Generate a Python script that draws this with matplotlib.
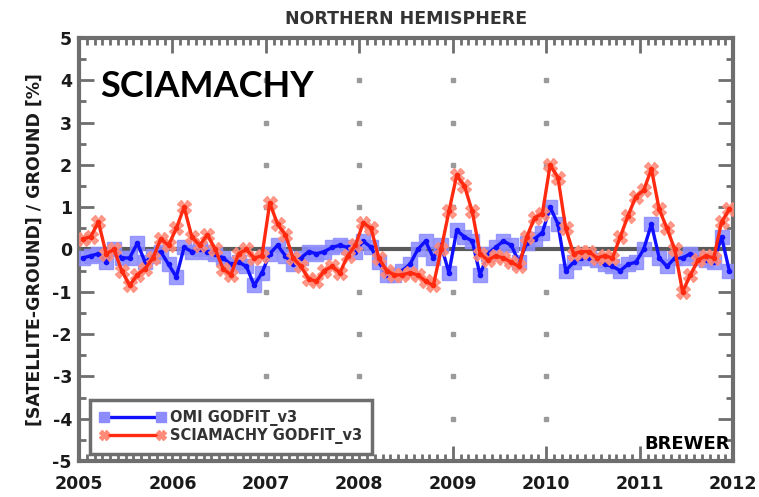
import matplotlib
matplotlib.use("Agg")
import matplotlib.pyplot as plt
import numpy as np
from matplotlib.ticker import MultipleLocator

plt.rcParams["axes.unicode_minus"] = False

# monthly time axis (decimal years, mid-month)
n_months = 84
years = 2005 + (np.arange(n_months) + 0.5) / 12.0

omi = [-0.2, -0.15, -0.1, -0.3, 0.0, -0.2, -0.2, 0.15, -0.3, -0.15, -0.05, -0.35,
       -0.65, 0.05, -0.05, 0.0, -0.05, -0.1, -0.2, -0.35, -0.3, -0.4, -0.85, -0.55,
       -0.1, 0.1, -0.15, -0.35, -0.2, -0.05, -0.1, -0.05, 0.05, 0.1, 0.05, -0.05,
       0.2, 0.05, -0.3, -0.6, -0.6, -0.5, -0.35, 0.0, 0.2, -0.2, 0.1, -0.55,
       0.45, 0.3, 0.2, -0.6, -0.1, 0.05, 0.2, 0.1, -0.3, 0.15, 0.25, 0.4,
       1.0, 0.6, -0.5, -0.3, -0.2, -0.2, -0.25, -0.35, -0.4, -0.5, -0.35, -0.3,
       0.0, 0.6, -0.2, -0.4, -0.2, -0.2, -0.1, -0.2, -0.25, -0.3, 0.3, -0.5]

sciamachy = [0.25, 0.3, 0.65, -0.1, 0.0, -0.5, -0.85, -0.6, -0.45, -0.2, 0.25, 0.1,
             0.5, 1.0, 0.3, 0.1, 0.35, 0.0, -0.45, -0.6, -0.1, 0.0, -0.2, -0.15,
             1.1, 0.6, 0.35, -0.2, -0.4, -0.7, -0.75, -0.5, -0.4, -0.55, -0.15, 0.1,
             0.63, 0.5, -0.2, -0.5, -0.6, -0.6, -0.55, -0.6, -0.75, -0.85, 0.0, 0.9,
             1.75, 1.5, 0.9, -0.1, -0.25, -0.15, -0.2, -0.3, -0.4, 0.3, 0.75, 0.85,
             2.0, 1.7, 0.5, -0.1, -0.05, -0.05, -0.2, -0.15, -0.2, 0.3, 0.8, 1.25,
             1.4, 1.9, 0.95, 0.5, 0.0, -1.0, -0.6, -0.25, -0.15, -0.2, 0.65, 0.95]

year_ticks = [2005, 2006, 2007, 2008, 2009, 2010, 2011, 2012]
y_ticks = [-5, -4, -3, -2, -1, 0, 1, 2, 3, 4, 5]
grid_years = [2007, 2008, 2009, 2010]
grid_levels = [-4, -3, -2, -1, 1, 2, 3, 4]

frame_col = "#6e6e6e"
text_col = "#1a1a1a"

fig = plt.figure(figsize=(7.59, 4.97), dpi=100)
ax = fig.add_axes([0.104, 0.0725, 0.862, 0.851])

# dotted grid: only points at the intersections
gx, gy = np.meshgrid(grid_years, grid_levels)
ax.plot(gx.ravel(), gy.ravel(), ls="none", marker="s", ms=2.5, color="#9a9a9a", zorder=1)

ax.axhline(0, color="#5a5a5a", lw=3, zorder=2)

# OMI: light squares + solid line
ax.plot(years, omi, ls="none", marker="s", ms=10, color="#8c8cff", alpha=0.85, zorder=3)
ax.plot(years, omi, color="#1010ff", lw=2.4, marker="o", ms=3, zorder=4)
# SCIAMACHY: light crosses + solid line
ax.plot(years, sciamachy, ls="none", marker="X", ms=10, color="#ff8a78", alpha=0.85, zorder=5)
ax.plot(years, sciamachy, color="#ff2a10", lw=2.4, marker="o", ms=3, zorder=6)

ax.set_xlim(2005, 2012)
ax.set_ylim(-5, 5)
ax.set_xticks(year_ticks)
ax.set_xticklabels([str(y) for y in year_ticks])
ax.set_yticks(y_ticks)
ax.xaxis.set_minor_locator(MultipleLocator(1 / 12.0))
ax.yaxis.set_minor_locator(MultipleLocator(0.5))
ax.tick_params(which="both", direction="in", top=True, right=True, color=frame_col, width=2)
ax.tick_params(which="major", length=11)
ax.tick_params(which="minor", length=5)
ax.tick_params(axis="x", labelsize=12.5, pad=10)
ax.tick_params(axis="y", labelsize=12.5, pad=5)
for lab in ax.get_xticklabels() + ax.get_yticklabels():
    lab.set_fontweight("bold")
    lab.set_color(text_col)
for s in ax.spines.values():
    s.set_color(frame_col)
    s.set_linewidth(3)

ax.set_ylabel("[SATELLITE-GROUND] / GROUND [%]", fontsize=12.5, fontweight="bold",
              color=text_col, labelpad=6)
ax.set_title("NORTHERN HEMISPHERE", fontsize=12.5, fontweight="bold", color="#333333", pad=10)

ax.text(0.033, 0.885, "SCIAMACHY", transform=ax.transAxes, fontsize=26,
        fontweight="bold", family="Lato", color="black", va="center", ha="left")
ax.text(0.995, 0.04, "BREWER", transform=ax.transAxes, fontsize=13,
        fontweight="bold", color="black", ha="right", va="center")

h1, = ax.plot([], [], color="#1010ff", lw=2.4, marker="s", ms=7, mfc="#8c8cff", mec="#8c8cff")
h2, = ax.plot([], [], color="#ff2a10", lw=2.4, marker="X", ms=7, mfc="#ff8a78", mec="#ff8a78")
leg = ax.legend([h1, h2], ["OMI GODFIT_v3", "SCIAMACHY GODFIT_v3"], loc="lower left",
                bbox_to_anchor=(0.012, 0.01), numpoints=2, fancybox=False, framealpha=1,
                prop={"weight": "bold", "size": 10.5}, handlelength=4.5, handletextpad=0.3,
                labelspacing=0.1, borderpad=0.7, borderaxespad=0.2)
leg.get_frame().set_edgecolor(frame_col)
leg.get_frame().set_linewidth(2.5)
for t in leg.get_texts():
    t.set_color("#333333")

fig.savefig("out.png", dpi=100)
